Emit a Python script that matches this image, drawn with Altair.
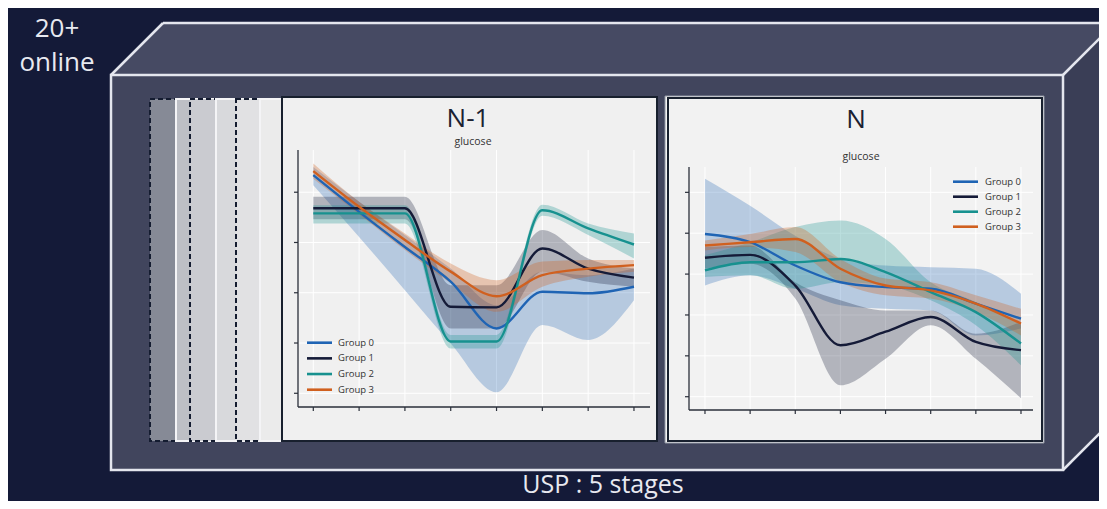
import altair as alt
import pandas as pd

# ---------------- data ----------------
GROUPS = ["Group 0", "Group 1", "Group 2", "Group 3"]
STEPS = [0, 1, 2, 3, 4, 5, 6, 7]
N1_YTICKS = [0, 1, 2, 3, 4]
N_YTICKS = [0, 1, 2, 3, 4, 5]

# panel "N-1"
N1_G0_MEAN = [4.34, 3.61, 2.91, 2.22, 1.29, 2.02, 1.99, 2.12]
N1_G0_LO = [4.14, 3.11, 2.05, 0.99, 0.02, 1.36, 1.06, 1.85]
N1_G0_HI = [4.50, 3.81, 3.15, 2.48, 1.75, 2.42, 2.35, 2.48]
N1_G1_MEAN = [3.68, 3.68, 3.68, 1.72, 1.71, 2.88, 2.48, 2.30]
N1_G1_LO = [3.46, 3.46, 3.46, 1.29, 1.29, 2.42, 2.22, 2.12]
N1_G1_HI = [3.91, 3.91, 3.91, 2.15, 2.15, 3.25, 2.68, 2.48]
N1_G2_MEAN = [3.58, 3.58, 3.58, 1.03, 1.03, 3.64, 3.28, 2.96]
N1_G2_LO = [3.38, 3.38, 3.38, 0.89, 0.89, 3.53, 3.15, 2.68]
N1_G2_HI = [3.74, 3.74, 3.74, 1.16, 1.16, 3.75, 3.38, 3.18]
N1_G3_MEAN = [4.42, 3.71, 3.05, 2.42, 1.93, 2.35, 2.48, 2.55]
N1_G3_LO = [4.27, 3.56, 2.85, 2.19, 1.62, 2.12, 2.32, 2.42]
N1_G3_HI = [4.57, 3.81, 3.18, 2.58, 2.25, 2.62, 2.65, 2.65]

# panel "N"
N_G0_MEAN = [3.98, 3.78, 3.21, 2.80, 2.68, 2.64, 2.28, 1.91]
N_G0_LO = [2.72, 2.97, 2.64, 2.24, 2.15, 2.11, 1.50, 1.67]
N_G0_HI = [5.33, 4.67, 3.94, 3.37, 3.21, 3.17, 3.13, 2.52]
N_G1_MEAN = [3.40, 3.47, 2.72, 1.26, 1.59, 1.95, 1.34, 1.14]
N_G1_LO = [3.13, 3.25, 2.40, 0.28, 0.93, 1.75, 0.93, -0.04]
N_G1_HI = [3.66, 3.70, 2.80, 2.36, 2.11, 2.11, 1.54, 1.83]
N_G2_MEAN = [3.09, 3.29, 3.29, 3.37, 3.05, 2.56, 2.07, 1.30]
N_G2_LO = [2.93, 2.97, 2.64, 2.80, 2.72, 2.36, 1.75, 0.77]
N_G2_HI = [3.46, 3.78, 4.15, 4.31, 3.86, 2.80, 2.32, 1.75]
N_G3_MEAN = [3.70, 3.78, 3.86, 3.13, 2.72, 2.60, 2.28, 1.79]
N_G3_LO = [3.58, 3.66, 3.54, 2.80, 2.48, 2.40, 2.07, 1.50]
N_G3_HI = [3.82, 3.98, 4.15, 3.37, 2.89, 2.80, 2.48, 2.15]

TXT_TOP = ["20+", "online"]
TXT_BOTTOM = "USP : 5 stages"

# ---------------- styling / layout ----------------
BG = "#141a38"
LINE_COLORS = ["#1f64b4", "#151b38", "#17918f", "#d0601f"]
BAND_OPACITY = [0.28, 0.3, 0.3, 0.3]
EDGE = "#e4e6ee"
AX = "#2a2f3a"
FONT = "Open Sans"

OFF = 8
W, H = 1091, 493


def p(v):
    return v - OFF


ONE = pd.DataFrame({"k": [0]})


def frame(means, los, his):
    rows = []
    for g, m, lo, hi in zip(GROUPS, means, los, his):
        for s, a, b, c in zip(STEPS, m, lo, hi):
            rows.append({"group": g, "step": s, "mean": a, "lo": b, "hi": c})
    return pd.DataFrame(rows)


N1_DF = frame([N1_G0_MEAN, N1_G1_MEAN, N1_G2_MEAN, N1_G3_MEAN],
              [N1_G0_LO, N1_G1_LO, N1_G2_LO, N1_G3_LO],
              [N1_G0_HI, N1_G1_HI, N1_G2_HI, N1_G3_HI])
N_DF = frame([N_G0_MEAN, N_G1_MEAN, N_G2_MEAN, N_G3_MEAN],
             [N_G0_LO, N_G1_LO, N_G2_LO, N_G3_LO],
             [N_G0_HI, N_G1_HI, N_G2_HI, N_G3_HI])

COLOR = alt.Color("group:N", scale=alt.Scale(domain=GROUPS, range=LINE_COLORS), legend=None)
FOP = alt.FillOpacity("group:N", scale=alt.Scale(domain=GROUPS, range=BAND_OPACITY), legend=None)


def rect(x0, y0, x1, y1, **kw):
    return alt.Chart(ONE).mark_rect(**kw).encode(
        x=alt.value(p(x0)), x2=alt.value(p(x1)), y=alt.value(p(y0)), y2=alt.value(p(y1)))


def seg(x0, y0, x1, y1, color=EDGE, width=2.5, **kw):
    return alt.Chart(ONE).mark_rule(color=color, strokeWidth=width, **kw).encode(
        x=alt.value(p(x0)), x2=alt.value(p(x1)), y=alt.value(p(y0)), y2=alt.value(p(y1)))


def label(text, x, y, size, color, **kw):
    return alt.Chart(ONE).mark_text(text=text, fontSize=size, color=color, font=FONT, **kw).encode(
        x=alt.value(p(x)), y=alt.value(p(y)))


def face(xs, ys, y2s, color):
    df = pd.DataFrame({"x": [p(v) for v in xs], "y": [p(v) for v in ys], "y2": [p(v) for v in y2s]})
    sx = alt.Scale(domain=[0, W], range=[0, W], nice=False, zero=False)
    sy = alt.Scale(domain=[0, H], range=[0, H], nice=False, zero=False)
    return alt.Chart(df).mark_area(color=color, interpolate="linear").encode(
        x=alt.X("x:Q", scale=sx, axis=None), y=alt.Y("y:Q", scale=sy, axis=None), y2="y2:Q")


# ---------------- 3D box ----------------
FL, FT, FR, FB = 111, 75, 1063, 470
DX, DY = 52, -52
box = [
    face([FL, FL + DX, FR + DX], [FT, FT + DY, FT + DY], [FT, FT, FT], "#464a63"),
    face([FR, FR + DX], [FT, FT + DY], [FB, FB + DY], "#3a3e56"),
    rect(FL, FT, FR, FB, fill="#41455d", stroke=EDGE, strokeWidth=2.5),
    seg(FL, FT, FL + DX, FT + DY),
    seg(FL + DX, FT + DY, FR + DX, FT + DY),
    seg(FR, FT, FR + DX, FT + DY),
    seg(FR, FB, FR + DX, FB + DY),
]

# stacked stage sheets behind N-1
SHEETS = [(150, "#868a96", "#141c30", True),
          (176, "#bdbfc5", "#f4f4f6", False),
          (190, "#cacbd0", "#141c30", True),
          (216, "#d8d9dc", "#f4f4f6", False),
          (236, "#e1e1e3", "#141c30", True),
          (260, "#ebebeb", "#f4f4f6", False)]
sheets = []
for left, fillc, strokec, dashed in SHEETS:
    kw = dict(fill=fillc, stroke=strokec, strokeWidth=2)
    if dashed:
        kw["strokeDash"] = [5, 3]
    sheets.append(rect(left, 99, 656, 441, **kw))


def panel(df, yticks, box_, ax, xdom, ydom, title, tpos, spos, fill):
    x0, y0, x1, y1 = box_
    axl, axt, axr, axb = ax
    xs = alt.Scale(domain=xdom, range=[p(axl), p(axr)], nice=False, zero=False)
    ys = alt.Scale(domain=ydom, range=[p(axb), p(axt)], nice=False, zero=False)
    X = alt.X("step:Q", scale=xs, axis=None)
    tickx = pd.DataFrame({"step": STEPS})
    ticky = pd.DataFrame({"v": yticks})
    YV = alt.Y("v:Q", scale=ys, axis=None)
    layers = [
        rect(x0, y0, x1, y1, fill=fill, stroke="#18202e", strokeWidth=2),
        alt.Chart(tickx).mark_rule(color="white", strokeWidth=1).encode(
            x=X, y=alt.value(p(axt)), y2=alt.value(p(axb))),
        alt.Chart(ticky).mark_rule(color="white", strokeWidth=1).encode(
            y=YV, x=alt.value(p(axl)), x2=alt.value(p(axr))),
        alt.Chart(df).mark_area(interpolate="monotone").encode(
            x=X, y=alt.Y("lo:Q", scale=ys, axis=None), y2="hi:Q", color=COLOR, fillOpacity=FOP),
        alt.Chart(df).mark_line(interpolate="monotone", strokeWidth=2.4).encode(
            x=X, y=alt.Y("mean:Q", scale=ys, axis=None), color=COLOR),
        seg(axl, axt, axl, axb, color=AX, width=1.3),
        seg(axl, axb, axr, axb, color=AX, width=1.3),
        alt.Chart(tickx).mark_rule(color=AX, strokeWidth=1.2).encode(
            x=X, y=alt.value(p(axb)), y2=alt.value(p(axb) + 4)),
        alt.Chart(ticky).mark_rule(color=AX, strokeWidth=1.2).encode(
            y=YV, x=alt.value(p(axl) - 4), x2=alt.value(p(axl))),
        label(title, tpos[0], tpos[1], 26, "#1b2232", align="center", baseline="alphabetic"),
        label("glucose", spos[0], spos[1], 10.5, "#333333", align="center", baseline="alphabetic"),
    ]
    return alt.layer(*layers)


n1 = panel(N1_DF, N1_YTICKS, (282, 97, 657, 441), (298, 150, 650, 407),
           [-0.334, 7.35], [-0.273, 4.84], "N-1", (468, 127), (473, 145), "#f0f0f0")
n_outline = rect(665, 96, 1044, 443, fill="#f2f2f2", stroke="#8f95a2", strokeWidth=1)
n = panel(N_DF, N_YTICKS, (668, 98, 1042, 441), (689, 167, 1033, 410),
          [-0.354, 7.266], [-0.325, 5.62], "N", (856, 128), (861, 160), "#f2f2f2")


def legend(xl0, xl1, xt, yfirst, ylast):
    ldf = pd.DataFrame({"group": GROUPS, "row": list(range(len(GROUPS)))})
    ys = alt.Scale(domain=[0, len(GROUPS) - 1], range=[p(yfirst), p(ylast)], nice=False, zero=False)
    Y = alt.Y("row:Q", scale=ys, axis=None)
    lines = alt.Chart(ldf).mark_rule(strokeWidth=2.6).encode(
        y=Y, x=alt.value(p(xl0)), x2=alt.value(p(xl1)), color=COLOR)
    texts = alt.Chart(ldf).mark_text(align="left", baseline="middle", fontSize=9.5,
                                     font=FONT, color="#333333").encode(
        y=Y, x=alt.value(p(xt)), text="group:N")
    return alt.layer(lines, texts)


leg_n1 = legend(307, 332, 338, 342.7, 389.7)
leg_n = legend(953, 978, 985, 181.7, 226.7)

texts = [
    label(TXT_TOP[0], 57, 37, 26, "#e8e9f0", align="center", baseline="alphabetic"),
    label(TXT_TOP[1], 57, 71, 26, "#e8e9f0", align="center", baseline="alphabetic"),
    label(TXT_BOTTOM, 603, 493, 25, "#e8e9f0", align="center", baseline="alphabetic"),
]

chart = alt.layer(
    *box, *sheets, n1, n_outline, n, leg_n1, leg_n, *texts
).resolve_scale(
    x="independent", y="independent"
).properties(
    width=W, height=H, padding=0, background=BG,
    autosize=alt.AutoSizeParams(type="none"),
).configure_view(strokeWidth=0)

chart.save("out.html", embed_options={"renderer": "svg", "actions": False})
